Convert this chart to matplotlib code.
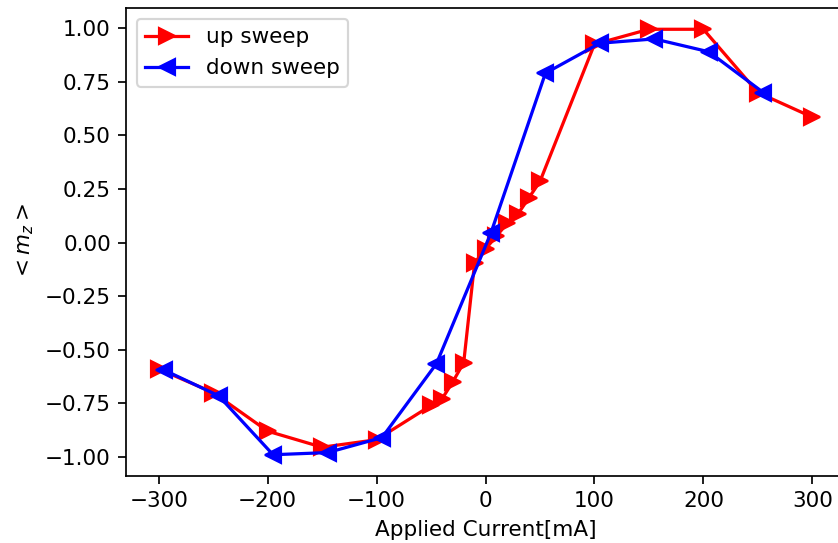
import matplotlib
matplotlib.use('Agg')
import matplotlib.pyplot as plt

# up sweep (increasing current)
up_current = [-300, -250, -200, -150, -100, -50, -40, -30, -20, -10, 0,
              10, 20, 30, 40, 50, 100, 150, 200, 250, 300]
up_mz = [-0.59, -0.70, -0.88, -0.955, -0.92, -0.76, -0.73, -0.65, -0.56, -0.095, -0.03,
         0.03, 0.09, 0.135, 0.21, 0.285, 0.925, 0.995, 0.995, 0.70, 0.585]

# down sweep (decreasing current)
down_current = [255, 205, 155, 105, 55, 5, -45, -95, -145, -195, -245, -295]
down_mz = [0.70, 0.89, 0.95, 0.93, 0.79, 0.045, -0.565, -0.91, -0.98, -0.99, -0.715, -0.595]

dpi = 155
fig = plt.figure(figsize=(838 / dpi, 543 / dpi), dpi=dpi)
ax = fig.add_axes([126 / 838, 67 / 543, 719 / 838, 468 / 543])

ax.plot(up_current, up_mz, 'r>-', markersize=7, label='up sweep')
ax.plot(down_current, down_mz, 'b<-', markersize=7, label='down sweep')

ax.set_xlabel('Applied Current[mA]')
ax.set_ylabel('$<m_z>$')
ax.legend(loc='upper left')

fig.savefig('out.png', dpi=dpi)
